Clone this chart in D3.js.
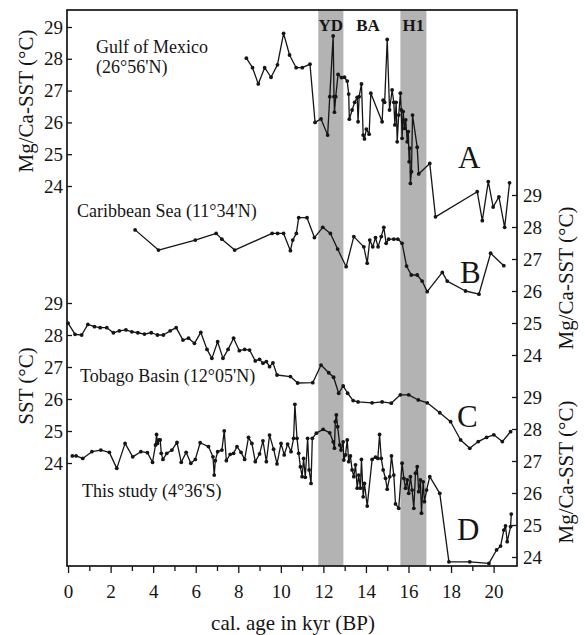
<!DOCTYPE html>
<html>
<head>
<meta charset="utf-8">
<script src="https://cdn.jsdelivr.net/npm/d3@7"></script>
<style>
  body { margin: 0; background: #fff; }
  svg { display: block; }
  text { font-family: "Liberation Serif", "Times New Roman", serif; fill: #151515; }
</style>
</head>
<body>
<div id="chart"></div>
<script>
// [age kyr BP, SST degC]
const gulfMexico = [
  [8.38,28.02],[8.67,27.72],[8.94,27.21],[9.24,27.72],[9.54,27.42],[9.84,27.81],[10.13,28.80],[10.41,28.12],
  [10.72,27.72],[11.01,27.72],[11.37,27.83],[11.61,26.00],[11.89,26.11],[12.20,25.60],[12.30,26.81],[12.46,28.72],
  [12.50,26.81],[12.52,26.32],[12.58,26.81],[12.69,27.51],[12.85,27.41],[12.99,27.42],[13.12,27.30],[13.19,26.89],
  [13.22,26.10],[13.35,26.39],[13.47,26.63],[13.59,26.79],[13.63,26.02],[13.68,26.81],[13.79,27.21],[13.87,25.60],
  [13.93,25.48],[14.02,25.79],[14.15,25.63],[14.23,26.92],[14.76,26.02],[14.81,26.70],[14.88,26.63],[15.00,28.61],
  [15.11,26.39],[15.23,27.02],[15.31,26.63],[15.36,25.92],[15.42,26.63],[15.47,25.39],[15.54,26.23],[15.62,26.92],
  [15.66,26.39],[15.70,25.50],[15.75,26.34],[15.81,25.81],[15.87,26.08],[15.94,25.39],[15.99,25.71],[16.03,24.76],
  [16.06,25.19],[16.09,24.08],[16.14,24.45],[16.19,26.23],[16.41,25.22],[16.48,24.38],[17.00,24.71],[17.27,23.03],
  [19.23,23.82],[19.47,22.91],[19.75,24.14],[19.98,23.34],[20.25,23.66],[20.52,22.70],[20.75,24.10]
];

const caribbean = [
  [3.15,27.91],[4.25,27.28],[5.98,27.59],[6.96,27.80],[7.23,27.62],[7.83,27.28],[9.59,27.80],[9.85,27.80],
  [10.13,27.80],[10.45,27.26],[10.56,27.59],[10.73,27.80],[10.84,28.29],[11.23,28.29],[11.58,27.67],[11.97,27.99],
  [12.33,27.80],[12.67,27.31],[13.07,26.76],[13.43,27.70],[13.90,27.38],[14.06,26.87],[14.18,27.59],[14.32,27.38],
  [14.45,27.67],[14.57,27.38],[14.72,27.70],[14.84,27.99],[14.95,27.49],[15.07,27.62],[15.31,27.62],[15.50,27.62],
  [15.70,27.49],[15.91,26.78],[16.13,26.50],[16.41,26.50],[16.64,26.31],[16.88,25.98],[17.59,26.58],[17.82,26.31],
  [18.68,26.00],[19.31,25.90],[19.86,27.18],[20.48,26.79]
];

const tobago = [
  [0.00,28.37],[0.33,28.02],[0.64,28.00],[0.93,28.33],[1.24,28.26],[1.51,28.23],[1.82,28.23],[2.13,28.07],
  [2.41,28.13],[2.72,28.16],[3.00,28.10],[3.28,28.07],[3.59,28.03],[3.91,28.07],[4.20,28.00],[4.48,28.00],
  [4.80,28.13],[5.08,28.23],[5.40,27.84],[5.66,27.90],[5.94,27.74],[6.24,28.08],[6.53,27.55],[6.76,27.27],
  [7.03,27.79],[7.28,27.27],[7.52,27.55],[7.78,27.90],[8.05,27.51],[8.30,27.55],[8.53,27.53],[8.80,27.19],
  [9.00,27.24],[9.16,27.12],[9.32,27.17],[9.47,27.01],[9.63,27.13],[9.82,26.75],[10.45,26.70],[10.79,26.50],
  [11.50,26.51],[11.89,27.06],[12.25,26.82],[12.48,26.68],[12.72,26.18],[12.93,26.41],[13.14,26.18],[13.40,25.95],
  [13.63,25.91],[14.29,25.88],[14.76,25.91],[15.19,25.87],[15.62,26.13],[16.01,26.13],[16.46,25.97],[16.88,25.88],
  [17.47,25.57],[17.98,25.29],[18.45,24.72],[18.88,24.46],[19.28,24.67],[19.67,24.80],[20.01,24.88],[20.41,24.67],
  [20.80,24.98]
];

const thisStudy = [
  [0.20,27.16],[0.38,27.16],[0.69,27.08],[1.12,27.29],[1.54,27.34],[1.94,27.27],[2.29,26.77],[2.68,27.55],
  [3.04,27.13],[3.42,27.29],[3.73,27.26],[3.97,26.96],[4.11,27.50],[4.16,27.83],[4.20,27.55],[4.27,27.66],
  [4.33,27.66],[4.38,27.24],[4.46,27.05],[4.64,27.24],[4.88,27.34],[5.12,27.58],[5.32,26.96],[5.55,27.27],
  [5.77,26.93],[5.98,27.05],[6.21,27.57],[6.60,27.45],[6.81,27.13],[6.87,26.56],[6.92,27.01],[7.03,27.29],
  [7.23,27.34],[7.34,27.94],[7.44,27.01],[7.62,27.21],[7.78,27.24],[7.94,27.45],[8.13,27.27],[8.30,27.05],
  [8.48,27.74],[8.64,27.55],[8.80,26.98],[9.00,27.22],[9.16,27.63],[9.32,26.98],[9.47,27.81],[9.66,27.37],
  [9.82,26.91],[10.01,27.55],[10.16,27.19],[10.32,27.53],[10.48,27.29],[10.60,27.71],[10.66,28.77],[10.76,27.71],
  [10.84,27.24],[10.92,26.82],[11.00,26.51],[11.07,27.08],[11.15,26.49],[11.26,27.71],[11.33,26.72],[11.42,26.30],
  [11.48,27.71],[11.67,27.87],[11.99,27.99],[12.30,27.88],[12.46,27.60],[12.52,27.40],[12.56,28.23],[12.61,28.44],
  [12.67,28.07],[12.77,27.50],[12.83,27.34],[12.93,27.60],[12.96,27.03],[13.04,27.19],[13.12,27.66],[13.19,26.98],
  [13.27,27.16],[13.35,26.72],[13.43,26.51],[13.51,26.88],[13.59,26.15],[13.66,26.56],[13.74,26.15],[13.79,27.05],
  [13.87,25.88],[13.93,26.30],[14.06,25.59],[14.29,27.05],[14.45,27.12],[14.56,27.08],[14.64,27.83],[14.72,27.08],
  [14.81,26.72],[14.92,26.46],[15.00,26.12],[15.12,26.51],[15.20,27.16],[15.31,26.56],[15.39,25.66],[15.54,25.52],
  [15.70,26.93],[15.78,26.46],[15.86,26.15],[15.94,26.41],[16.01,25.99],[16.09,26.51],[16.17,26.09],[16.25,25.52],
  [16.33,26.62],[16.41,26.82],[16.48,26.04],[16.56,26.41],[16.61,25.37],[16.69,26.35],[16.75,25.73],[16.85,26.09],
  [17.00,26.51],[17.47,25.99],[17.90,23.85],[18.88,23.85],[19.78,23.80],[20.14,24.22],[20.33,24.34],[20.48,24.84],
  [20.56,24.97],[20.64,24.48],[20.80,24.95],[20.83,25.34]
];

const ageTicks = d3.range(0, 21, 1);
const sstTicks = [24, 25, 26, 27, 28, 29];
const events = [
  { name: "YD", from: 11.76, to: 12.94, labelAt: 12.35 },
  { name: "BA", from: null, to: null, labelAt: 14.1 },
  { name: "H1", from: 15.62, to: 16.84, labelAt: 16.23 }
];

const W = 585, H = 635;
const plotL = 67, plotR = 517, plotT = 10, plotB = 566;

const svg = d3.select("#chart").append("svg").attr("width", W).attr("height", H);

const x = d3.scaleLinear().domain([-0.05, 21.1]).range([plotL, plotR]);
const yA = d3.scaleLinear().domain([24, 29]).range([186, 27]);
const yB = d3.scaleLinear().domain([24, 29]).range([355, 195]);
const yC = d3.scaleLinear().domain([24, 29]).range([463, 303]);
const yD = d3.scaleLinear().domain([24, 29]).range([557, 397]);

// grey event bands
svg.append("g")
  .selectAll("rect")
  .data(events.filter(d => d.from !== null))
  .enter()
  .append("rect")
  .attr("x", d => x(d.from))
  .attr("width", d => x(d.to) - x(d.from))
  .attr("y", plotT)
  .attr("height", plotB - plotT)
  .attr("fill", "#b3b3b3");

svg.append("g")
  .selectAll("text")
  .data(events)
  .enter()
  .append("text")
  .attr("x", d => x(d.labelAt))
  .attr("y", 31)
  .attr("text-anchor", "middle")
  .style("font-size", "17px")
  .style("font-weight", "bold")
  .text(d => d.name);

// series
const drawSeries = (data, y) => {
  const g = svg.append("g");
  const line = d3.line().x(d => x(d[0])).y(d => y(d[1]));
  g.append("path")
    .datum(data)
    .attr("d", line)
    .attr("fill", "none")
    .attr("stroke", "#151515")
    .attr("stroke-width", 1.3)
    .attr("stroke-linejoin", "round");
  g.selectAll("circle")
    .data(data)
    .enter()
    .append("circle")
    .attr("cx", d => x(d[0]))
    .attr("cy", d => y(d[1]))
    .attr("r", 1.9)
    .attr("fill", "#151515");
};

drawSeries(gulfMexico, yA);
drawSeries(caribbean, yB);
drawSeries(tobago, yC);
drawSeries(thisStudy, yD);

// frame
svg.append("rect")
  .attr("x", plotL).attr("y", plotT)
  .attr("width", plotR - plotL).attr("height", plotB - plotT)
  .attr("fill", "none")
  .attr("stroke", "#151515")
  .attr("stroke-width", 1.7);

// y axes, ticks pointing inward
const styleAxis = (g) => {
  g.select(".domain").remove();
  g.selectAll("line").attr("stroke", "#151515").attr("stroke-width", 1.3);
  g.selectAll("text").style("font-size", "19px").style("font-family", "Liberation Serif, serif").attr("fill", "#151515");
};

[yA, yC].forEach(y => {
  svg.append("g")
    .attr("transform", `translate(${plotL},0)`)
    .call(d3.axisLeft(y).tickValues(sstTicks).tickSizeInner(-5).tickSizeOuter(0).tickPadding(4).tickFormat(d3.format("d")))
    .call(styleAxis);
});

[yB, yD].forEach(y => {
  svg.append("g")
    .attr("transform", `translate(${plotR},0)`)
    .call(d3.axisRight(y).tickValues(sstTicks).tickSizeInner(-5).tickSizeOuter(0).tickPadding(6).tickFormat(d3.format("d")))
    .call(styleAxis);
});

// x axis
const xAxisG = svg.append("g")
  .attr("transform", `translate(0,${plotB})`)
  .call(d3.axisBottom(x).tickValues(ageTicks).tickSizeInner(7).tickSizeOuter(0).tickPadding(12)
    .tickFormat(d => d % 2 === 0 ? d : ""))
  .call(styleAxis);
xAxisG.selectAll(".tick line").attr("y2", d => d % 2 === 0 ? 7 : 5);

// axis titles
const yTitle = (txt, cx, cy) => {
  svg.append("text")
    .attr("transform", `translate(${cx},${cy}) rotate(-90)`)
    .attr("text-anchor", "middle")
    .attr("dominant-baseline", "central")
    .style("font-size", "21px")
    .text(txt);
};
yTitle("Mg/Ca-SST (°C)", 26, 101);
yTitle("SST (°C)", 26, 386);
yTitle("Mg/Ca-SST (°C)", 566, 278);
yTitle("Mg/Ca-SST (°C)", 566, 472);

svg.append("text")
  .attr("x", 293).attr("y", 630)
  .attr("text-anchor", "middle")
  .style("font-size", "21px")
  .text("cal. age in kyr (BP)");

// site labels
const siteLabels = [
  { t: "Gulf of Mexico", x: 96, y: 53 },
  { t: "(26°56'N)", x: 96, y: 73 },
  { t: "Caribbean Sea (11°34'N)", x: 77, y: 217 },
  { t: "Tobago Basin (12°05'N)", x: 80, y: 382 },
  { t: "This study (4°36'S)", x: 82, y: 497 }
];
svg.append("g")
  .selectAll("text")
  .data(siteLabels)
  .enter()
  .append("text")
  .attr("x", d => d.x).attr("y", d => d.y)
  .style("font-size", "18px")
  .text(d => d.t);

const letters = [
  { t: "A", x: 458, y: 168 },
  { t: "B", x: 460, y: 283 },
  { t: "C", x: 457, y: 427 },
  { t: "D", x: 457, y: 540 }
];
svg.append("g")
  .selectAll("text")
  .data(letters)
  .enter()
  .append("text")
  .attr("x", d => d.x).attr("y", d => d.y)
  .style("font-size", "31px")
  .text(d => d.t);
</script>
</body>
</html>
